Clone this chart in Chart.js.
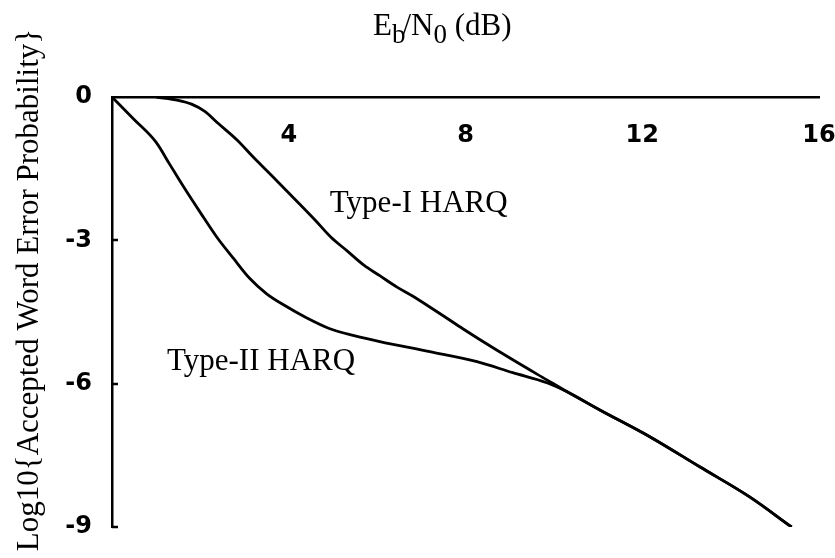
<!DOCTYPE html>
<html>
<head>
<meta charset="utf-8">
<script src="https://cdn.jsdelivr.net/npm/chart.js@4.4.1/dist/chart.umd.min.js"></script>
<style>
  html, body { margin: 0; padding: 0; background: #fff; }
</style>
</head>
<body>
<canvas id="harq-chart" width="835" height="558"></canvas>
<script>
// Eb/N0 (dB) and log10 of the accepted word error probability, per scheme
const typeOneSnr  = [1.0, 1.5, 1.8, 2.1, 2.4, 2.83, 3.19, 3.64, 4.15, 4.6, 4.95, 5.32, 5.7, 6.06, 6.45, 6.81, 7.2, 7.58, 7.94, 8.33, 9.07, 9.84, 10.3, 11.04, 12.17, 13.30, 14.43, 15.38];
const typeOneLogP = [0, -0.07, -0.15, -0.3, -0.55, -0.9, -1.25, -1.67, -2.15, -2.58, -2.93, -3.22, -3.52, -3.74, -3.98, -4.17, -4.4, -4.63, -4.85, -5.08, -5.5, -5.92, -6.17, -6.55, -7.11, -7.74, -8.37, -9.0];

const typeTwoSnr  = [0, 0.5, 1.0, 1.3, 1.62, 2.0, 2.37, 2.75, 3.12, 3.5, 3.9, 4.4, 4.93, 5.5, 6.06, 7.19, 8.26, 9.07, 9.84, 10.3, 11.04, 12.17, 13.30, 14.43, 15.38];
const typeTwoLogP = [0, -0.47, -0.95, -1.4, -1.88, -2.42, -2.93, -3.38, -3.8, -4.12, -4.36, -4.62, -4.85, -5.0, -5.12, -5.33, -5.54, -5.77, -5.98, -6.17, -6.55, -7.11, -7.74, -8.37, -9.0];

const curveNames = ['Type-I HARQ', 'Type-II HARQ'];
const xTickValues = [0, 4, 8, 12, 16];
const yTickValues = [0, -3, -6, -9];

const toPoints = (xs, ys) => xs.map((x, i) => ({ x: x, y: ys[i] }));

// axis titles, curve names and the short inward ticks on the left axis
const harqDecor = {
  id: 'harqDecor',
  afterDraw(chart) {
    const ctx = chart.ctx;
    const x = chart.scales.x, y = chart.scales.y;
    ctx.save();
    ctx.strokeStyle = '#000';
    ctx.lineWidth = 2.5;
    yTickValues.forEach(v => {
      if (v === 0) return;
      const py = Math.round(y.getPixelForValue(v));
      ctx.beginPath();
      ctx.moveTo(x.left, py);
      ctx.lineTo(x.left + 6, py);
      ctx.stroke();
    });

    ctx.fillStyle = '#000';
    ctx.textBaseline = 'alphabetic';
    ctx.textAlign = 'left';
    ctx.font = '31px "Liberation Serif"';
    ctx.fillText(curveNames[0], x.getPixelForValue(4.93), y.getPixelForValue(-2.41));
    ctx.fillText(curveNames[1], x.getPixelForValue(1.245), y.getPixelForValue(-5.71));

    // Eb/N0 (dB) with lowered subscripts
    const parts = [['E', 0], ['b', 1], ['/', 0], ['N', 0], ['0', 1], [' (dB)', 0]];
    let tx = 373;
    parts.forEach(([s, sub]) => {
      ctx.font = sub ? '27px "Liberation Serif"' : '31px "Liberation Serif"';
      ctx.fillText(s, tx, sub ? 43 : 35);
      tx += ctx.measureText(s).width - (s === 'b' ? 3 : 0);
    });

    ctx.font = '31px "Liberation Serif"';
    ctx.translate(38, 290);
    ctx.rotate(-Math.PI / 2);
    ctx.textAlign = 'center';
    ctx.fillText('Log10{Accepted Word Error Probability}', 0, 0);
    ctx.restore();
  }
};

Chart.defaults.color = '#000';
Chart.defaults.font.family = '"DejaVu Sans"';

new Chart(document.getElementById('harq-chart'), {
  type: 'line',
  data: {
    datasets: [{
      label: curveNames[0],
      data: toPoints(typeOneSnr, typeOneLogP),
      borderColor: '#000',
      borderWidth: 2.8,
      pointRadius: 0,
      cubicInterpolationMode: 'monotone',
      fill: false
    }, {
      label: curveNames[1],
      data: toPoints(typeTwoSnr, typeTwoLogP),
      borderColor: '#000',
      borderWidth: 2.8,
      pointRadius: 0,
      cubicInterpolationMode: 'monotone',
      fill: false
    }]
  },
  options: {
    responsive: false,
    animation: false,
    layout: { padding: { top: 97, right: 16, bottom: 31, left: 0 } },
    plugins: {
      legend: { display: false },
      tooltip: { enabled: false }
    },
    scales: {
      x: {
        type: 'linear',
        position: { y: 0 },
        min: 0,
        max: 16,
        grid: { display: false },
        border: { color: '#000', width: 2.5 },
        afterBuildTicks: scale => { scale.ticks = xTickValues.map(v => ({ value: v })); },
        afterFit: scale => { scale.paddingLeft = 0; scale.paddingRight = 0; },
        ticks: {
          padding: 16.6,
          maxRotation: 0,
          autoSkip: false,
          font: { size: 24, weight: 'bold' },
          callback: v => (v === 0 ? '' : v)
        }
      },
      y: {
        type: 'linear',
        position: 'left',
        min: -9,
        max: 0,
        grid: { display: false },
        border: { color: '#000', width: 2.5 },
        afterBuildTicks: scale => { scale.ticks = yTickValues.map(v => ({ value: v })); },
        afterFit: scale => { scale.width = 112; },
        ticks: {
          padding: 12,
          font: { size: 24, weight: 'bold' }
        }
      }
    }
  },
  plugins: [harqDecor]
});
</script>
</body>
</html>
